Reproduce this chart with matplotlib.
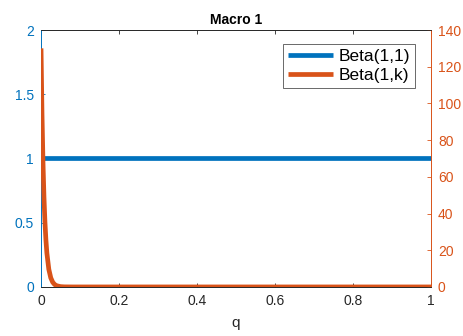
import matplotlib
matplotlib.use("Agg")
import matplotlib.pyplot as plt

plt.rcParams['font.family'] = ['Liberation Sans', 'DejaVu Sans']

# Uniform density Beta(1,1) on [0, 1]
q_flat = [0.0, 1.0]
beta_11 = [1.0, 1.0]

# Beta(1,k) density, sharply concentrated near q = 0
q_k = [0.0, 0.0025, 0.005, 0.0075, 0.01, 0.0125, 0.015, 0.02, 0.025,
       0.03, 0.035, 0.04, 0.05, 0.06, 0.08, 0.1, 1.0]
beta_1k = [130.0, 94.1, 68.1, 49.2, 35.6, 25.7, 18.5, 9.6, 4.96,
           2.56, 1.31, 0.67, 0.17, 0.044, 0.003, 0.0, 0.0]

x_ticks = [0, 0.2, 0.4, 0.6, 0.8, 1]
x_tick_labels = ['0', '0.2', '0.4', '0.6', '0.8', '1']
left_ticks = [0, 0.5, 1, 1.5, 2]
left_tick_labels = ['0', '0.5', '1', '1.5', '2']
right_ticks = [0, 20, 40, 60, 80, 100, 120, 140]

blue = '#0072BD'
orange = '#D95319'
dark = '#262626'

fig = plt.figure(figsize=(4.63, 3.36), dpi=100)
ax = fig.add_axes([0.0886, 0.146, 0.8423, 0.7647])
ax2 = ax.twinx()

l1, = ax.plot(q_flat, beta_11, color=blue, lw=3.4, solid_capstyle='butt', zorder=3)
l2, = ax2.plot(q_k, beta_1k, color=orange, lw=3.4, solid_capstyle='butt', zorder=3)

ax.set_xlim(0, 1)
ax.set_ylim(0, 2)
ax2.set_ylim(0, 140)

ax.set_xticks(x_ticks)
ax.set_xticklabels(x_tick_labels)
ax.set_yticks(left_ticks)
ax.set_yticklabels(left_tick_labels)
ax2.set_yticks(right_ticks)

ax.tick_params(axis='x', direction='in', top=True, length=3, width=0.6,
               colors=dark, labelsize=10, pad=5)
ax.tick_params(axis='y', direction='in', length=3, width=0.6,
               colors=blue, labelsize=10, pad=5)
ax2.tick_params(axis='y', direction='in', length=3, width=0.6,
                colors=orange, labelsize=10, pad=5)

for a in (ax, ax2):
    a.spines['top'].set_color(dark)
    a.spines['bottom'].set_color(dark)
    a.spines['left'].set_color(blue)
    a.spines['right'].set_color(orange)
    for s in a.spines.values():
        s.set_linewidth(0.6)

ax.set_xlabel('q', fontsize=11, color=dark, labelpad=6)
ax.set_title('Macro 1', fontsize=10, fontweight='bold', color='black', pad=4)

leg = ax2.legend([l1, l2], ['Beta(1,1)', 'Beta(1,k)'], loc='upper right',
                 bbox_to_anchor=(0.96, 0.945), fontsize=12.5, frameon=True,
                 fancybox=False, edgecolor=dark, handlelength=2.6,
                 handletextpad=0.3, borderpad=0.3, labelspacing=0.2,
                 borderaxespad=0)
leg.get_frame().set_linewidth(0.6)
for t in leg.get_texts():
    t.set_color('black')

fig.savefig('out.png', dpi=100)
